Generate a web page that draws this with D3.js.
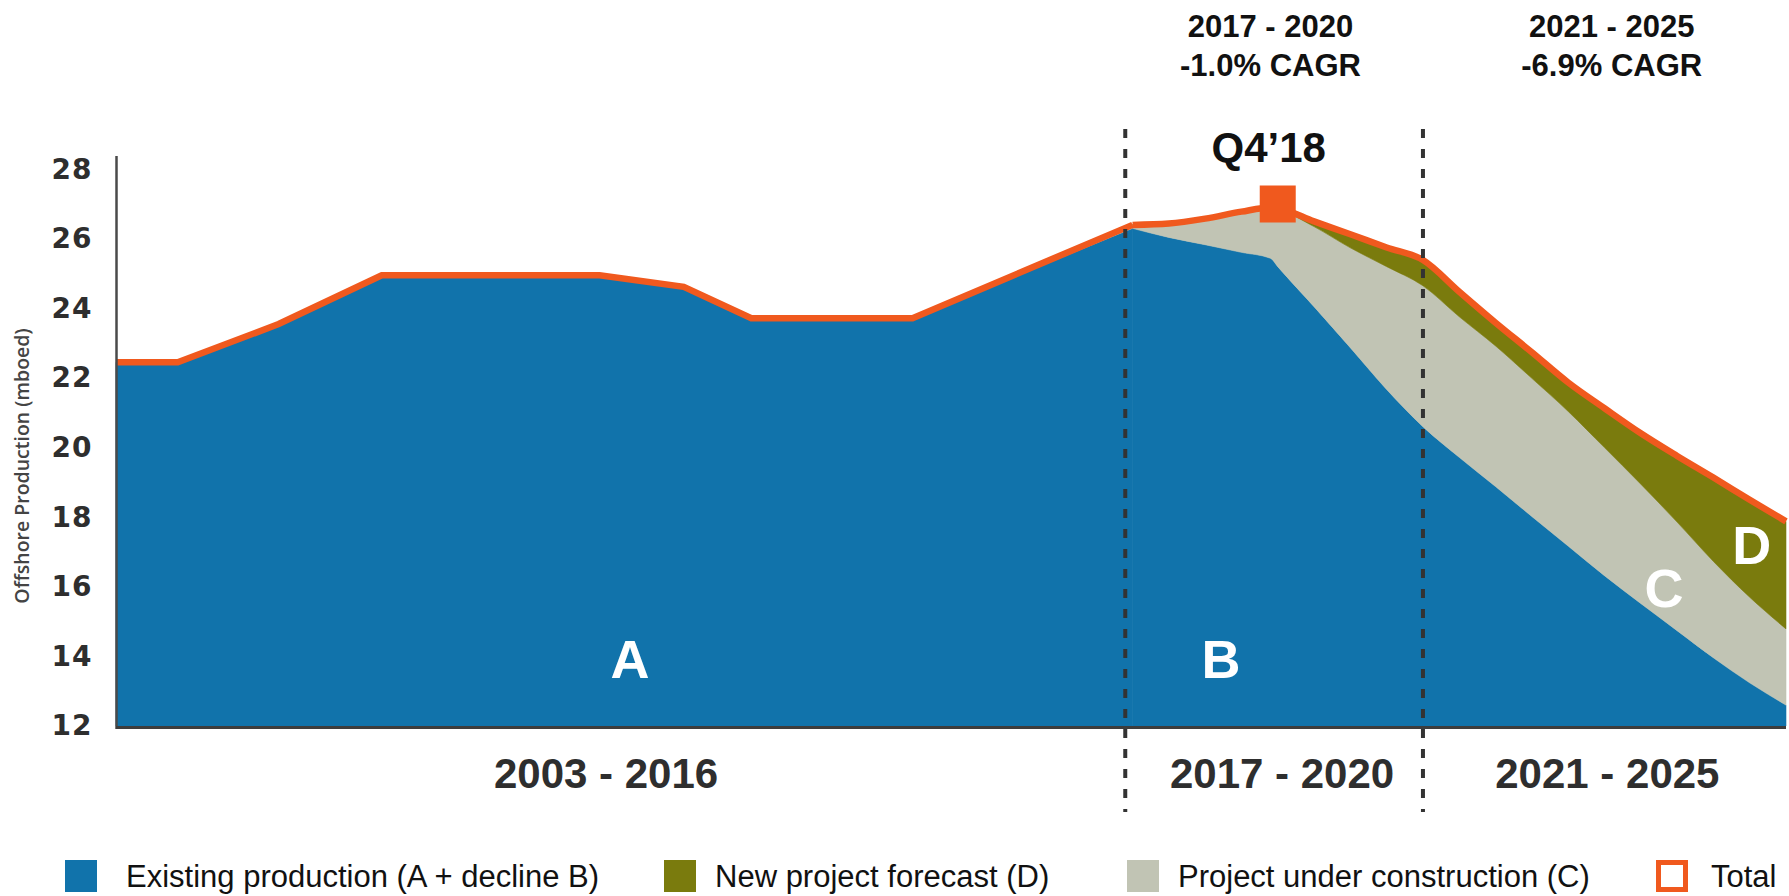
<!DOCTYPE html>
<html>
<head>
<meta charset="utf-8">
<script src="https://cdn.jsdelivr.net/npm/d3@7"></script>
<style>
    body { margin: 0; background: #fff; }
    svg { display: block; }
</style>
</head>
<body>
<div id="chart"></div>
<script>

// decimal years (x axis is continuous 2003 -> end of 2025)
var years = [2003, 2003.85, 2005.24, 2006.66, 2009.66, 2010.82, 2011.75, 2013.97,
             2017, 2017.5, 2018, 2018.5, 2018.9, 2019, 2019.5, 2020, 2020.5,
             2021, 2021.5, 2022, 2022.5, 2023, 2023.5, 2024, 2024.5, 2025, 2025.5, 2026];

// mboed
var existing = [22.45, 22.45, 23.55, 24.95, 24.95, 24.62, 23.72, 23.72,
                26.3, 26.04, 25.83, 25.61, 25.44, 25.2, 24.05, 22.87, 21.67,
                20.6, 19.72, 18.88, 18.02, 17.17, 16.32, 15.52, 14.74, 13.96, 13.24, 12.6];
var underConstruction = [0, 0, 0, 0, 0, 0, 0, 0,
                         0.1, 0.4, 0.75, 1.17, 1.46, 1.65, 2.3, 2.87, 3.53,
                         4.05, 4.04, 4.04, 3.97, 3.87, 3.68, 3.43, 3.12, 2.77, 2.46, 2.19];
var newProjects = [0, 0, 0, 0, 0, 0, 0, 0,
                   0, 0, 0, 0, 0, 0.03, 0.15, 0.39, 0.55,
                   0.74, 0.72, 0.67, 0.75, 0.83, 1.13, 1.46, 1.9, 2.41, 2.8, 3.09];

var yTicks = [12, 14, 16, 18, 20, 22, 24, 26, 28];
var periodBreaks = [2016.9, 2021];
var periodNames = ["2003 - 2016", "2017 - 2020", "2021 - 2025"];
var cagrNames = ["2017 - 2020", "2021 - 2025"];
var cagrValues = ["-1.0% CAGR", "-6.9% CAGR"];
var peakYear = 2019, peakValue = 27.0, peakLabel = "Q4\u201918";
var forecastStart = 2017;

var seriesKeys = ["existing", "construction", "forecast"];
var legendNames = ["Existing production (A + decline B)", "New project forecast (D)",
                   "Project under construction (C)", "Total"];


OffshoreChart = function(_parentElement){
    this.parentElement = _parentElement;
    this.initVis();
};

OffshoreChart.prototype.initVis = function() {
    var vis = this;

    vis.width = 1789;
    vis.height = 896;

    vis.svg = d3.select("#" + vis.parentElement).append("svg")
        .attr("width", vis.width)
        .attr("height", vis.height);

    vis.x = d3.scaleLinear().domain([2003, 2026]).range([116, 1786]);
    vis.y = d3.scaleLinear().domain([12, 28]).range([726, 169.2]).clamp(true);

    vis.color = d3.scaleOrdinal()
        .domain(seriesKeys)
        .range(["#1173ab", "#c1c4b4", "#7a7b0d"]);
    vis.orange = "#f0591e";

    vis.wrangleData();
};

OffshoreChart.prototype.wrangleData = function() {
    var vis = this;

    vis.rows = years.map(function(t, i) {
        return { year: t, existing: existing[i], construction: underConstruction[i], forecast: newProjects[i] };
    });

    // history is drawn with straight segments, the outlook with smooth curves
    var stack = d3.stack().keys(seriesKeys);
    vis.parts = [
        { curve: d3.curveLinear, layers: stack(vis.rows.filter(function(d){ return d.year <= forecastStart; })) },
        { curve: d3.curveMonotoneX, layers: stack(vis.rows.filter(function(d){ return d.year >= forecastStart; })) }
    ];

    vis.updateVis();
};

OffshoreChart.prototype.updateVis = function() {
    var vis = this;
    var x = vis.x, y = vis.y;

    vis.parts.forEach(function(part) {
        var area = d3.area()
            .curve(part.curve)
            .x(function(d){ return x(d.data.year); })
            .y0(function(d){ return y(d[0]); })
            .y1(function(d){ return y(d[1]); });

        vis.svg.append("g").selectAll("path")
            .data(part.layers)
            .enter().append("path")
            .attr("d", area)
            .attr("fill", function(d){ return vis.color(d.key); })
            .attr("stroke", function(d){ return vis.color(d.key); })
            .attr("stroke-width", 0.6);
    });

    // total line along the top of the stack
    vis.parts.forEach(function(part) {
        var top = part.layers[part.layers.length - 1];
        vis.svg.append("path")
            .datum(top)
            .attr("d", d3.line()
                .curve(part.curve)
                .x(function(d){ return x(d.data.year); })
                .y(function(d){ return y(d[1]); }))
            .attr("fill", "none")
            .attr("stroke", vis.orange)
            .attr("stroke-width", 6.5);
    });

    // Q4'18 marker
    vis.svg.append("rect")
        .attr("x", x(peakYear) - 18)
        .attr("y", y(peakValue) - 18.5)
        .attr("width", 36)
        .attr("height", 37)
        .attr("fill", vis.orange);

    vis.svg.append("text")
        .attr("x", x(peakYear) - 9)
        .attr("y", 161.5)
        .attr("text-anchor", "middle")
        .style("font-family", "Liberation Sans, Arial, sans-serif")
        .style("font-weight", "bold")
        .style("font-size", "42px")
        .style("fill", "#111")
        .text(peakLabel);

    // period dividers
    vis.svg.append("g").selectAll("line")
        .data(periodBreaks)
        .enter().append("line")
        .attr("x1", function(d){ return x(d); })
        .attr("x2", function(d){ return x(d); })
        .attr("y1", 129)
        .attr("y2", 812)
        .attr("stroke", "#333")
        .attr("stroke-width", 4)
        .attr("stroke-dasharray", "9,11");

    // axes
    vis.svg.append("line")
        .attr("x1", 116.5).attr("x2", 116.5)
        .attr("y1", 156).attr("y2", 729)
        .attr("stroke", "#4a4a4a")
        .attr("stroke-width", 2.5);

    vis.svg.append("line")
        .attr("x1", 116).attr("x2", x.range()[1])
        .attr("y1", 727.5).attr("y2", 727.5)
        .attr("stroke", "#3d3d3d")
        .attr("stroke-width", 3);

    var yAxis = d3.axisLeft(y).tickValues(yTicks).tickSize(0).tickPadding(24);
    var yg = vis.svg.append("g")
        .attr("transform", "translate(116.5,0)")
        .call(yAxis);
    yg.select(".domain").remove();
    yg.selectAll("text")
        .style("font-family", "DejaVu Sans, sans-serif")
        .style("font-weight", "bold")
        .style("font-size", "28px")
        .style("letter-spacing", "1px")
        .style("fill", "#2e2e2e");

    vis.svg.append("text")
        .attr("transform", "translate(29,466) rotate(-90)")
        .attr("text-anchor", "middle")
        .style("font-family", "Open Sans, sans-serif")
        .style("font-weight", 600)
        .style("font-size", "19.5px")
        .style("fill", "#444")
        .text("Offshore Production (mboed)");

    // area letters
    var letters = [
        { t: "A", year: 2010.08, v: 13.95 },
        { t: "B", year: 2018.22, v: 13.95 },
        { t: "C", year: 2024.32, v: 15.99 },
        { t: "D", year: 2025.53, v: 17.23 }
    ];
    vis.svg.append("g").selectAll("text")
        .data(letters)
        .enter().append("text")
        .attr("x", function(d){ return x(d.year); })
        .attr("y", function(d){ return y(d.v) + 20; })
        .attr("text-anchor", "middle")
        .style("font-family", "Liberation Sans, sans-serif")
        .style("font-weight", "bold")
        .style("font-size", "54px")
        .style("fill", "#fff")
        .text(function(d){ return d.t; });

    // period labels under the axis
    var periodCenters = [2009.75, 2019.06, 2023.54];
    vis.svg.append("g").selectAll("text")
        .data(periodNames)
        .enter().append("text")
        .attr("x", function(d, i){ return x(periodCenters[i]); })
        .attr("y", 788)
        .attr("text-anchor", "middle")
        .style("font-family", "Liberation Sans, Arial, sans-serif")
        .style("font-weight", "bold")
        .style("font-size", "42px")
        .style("fill", "#2e2e2e")
        .text(function(d){ return d; });

    // CAGR notes on top
    var cagrCenters = [2018.9, 2023.6];
    var notes = vis.svg.append("g").selectAll("text")
        .data(cagrNames)
        .enter().append("text")
        .attr("text-anchor", "middle")
        .style("font-family", "Liberation Sans, Arial, sans-serif")
        .style("font-weight", "bold")
        .style("font-size", "31px")
        .style("fill", "#111");
    notes.append("tspan")
        .attr("x", function(d, i){ return x(cagrCenters[i]); })
        .attr("y", 37)
        .text(function(d){ return d; });
    notes.append("tspan")
        .attr("x", function(d, i){ return x(cagrCenters[i]); })
        .attr("y", 75.5)
        .text(function(d, i){ return cagrValues[i]; });

    vis.drawLegend();
};

OffshoreChart.prototype.drawLegend = function() {
    var vis = this;

    var swatchX = [65, 664, 1127, 1656];
    var fills = [vis.color("existing"), vis.color("forecast"), vis.color("construction"), "#fff"];

    var items = vis.svg.append("g").selectAll("g")
        .data(legendNames)
        .enter().append("g")
        .attr("transform", function(d, i){ return "translate(" + swatchX[i] + ",860)"; });

    items.append("rect")
        .attr("x", function(d, i){ return i == 3 ? 2.5 : 0; })
        .attr("y", function(d, i){ return i == 3 ? 2.5 : 0; })
        .attr("width", function(d, i){ return i == 3 ? 27 : 32; })
        .attr("height", function(d, i){ return i == 3 ? 27 : 32; })
        .attr("fill", function(d, i){ return fills[i]; })
        .attr("stroke", function(d, i){ return i == 3 ? vis.orange : "none"; })
        .attr("stroke-width", 5);

    items.append("text")
        .attr("x", function(d, i){ return i == 0 ? 61 : (i == 3 ? 55 : 51); })
        .attr("y", 27)
        .style("font-family", "Liberation Sans, sans-serif")
        .style("font-size", "31px")
        .style("fill", "#111")
        .text(function(d){ return d; });
};

var chart = new OffshoreChart("chart");

</script>
</body>
</html>
